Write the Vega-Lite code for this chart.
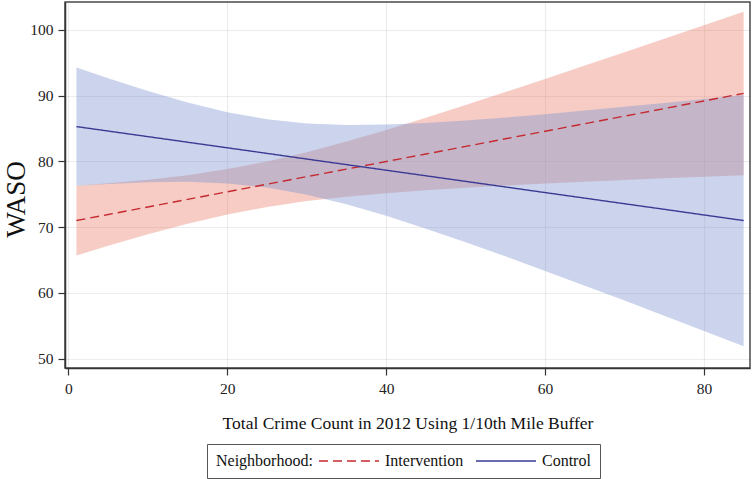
{
  "$schema": "https://vega.github.io/schema/vega-lite/v6.json",
  "width": 685,
  "height": 366,
  "autosize": {"type": "none"},
  "padding": {"left": 65, "top": 2, "right": 2, "bottom": 111},
  "background": "white",
  "config": {
    "font": "Liberation Serif",
    "view": {"stroke": "#4a4a4a", "strokeWidth": 1.5},
    "axis": {
      "labelFont": "Liberation Serif",
      "titleFont": "Liberation Serif",
      "labelColor": "#222",
      "titleColor": "#111",
      "gridColor": "#000000",
      "gridOpacity": 0.075,
      "gridWidth": 1.2,
      "domainColor": "#333",
      "domainWidth": 1.5,
      "tickColor": "#333",
      "tickSize": 7,
      "tickWidth": 1.2,
      "labelFontSize": 15.5,
      "zindex": 1
    }
  },
  "data": {
    "values": [
      {"x": 1, "group": "Intervention", "fit": 71.0, "lo": 65.69, "hi": 76.31},
      {"x": 5, "group": "Intervention", "fit": 71.92, "lo": 67.17, "hi": 76.67},
      {"x": 10, "group": "Intervention", "fit": 73.07, "lo": 68.92, "hi": 77.22},
      {"x": 15, "group": "Intervention", "fit": 74.22, "lo": 70.53, "hi": 77.91},
      {"x": 20, "group": "Intervention", "fit": 75.38, "lo": 71.93, "hi": 78.83},
      {"x": 25, "group": "Intervention", "fit": 76.53, "lo": 73.07, "hi": 79.99},
      {"x": 30, "group": "Intervention", "fit": 77.68, "lo": 73.96, "hi": 81.40},
      {"x": 35, "group": "Intervention", "fit": 78.83, "lo": 74.64, "hi": 83.02},
      {"x": 40, "group": "Intervention", "fit": 79.98, "lo": 75.17, "hi": 84.79},
      {"x": 45, "group": "Intervention", "fit": 81.13, "lo": 75.61, "hi": 86.65},
      {"x": 50, "group": "Intervention", "fit": 82.28, "lo": 75.98, "hi": 88.58},
      {"x": 55, "group": "Intervention", "fit": 83.44, "lo": 76.33, "hi": 90.55},
      {"x": 60, "group": "Intervention", "fit": 84.59, "lo": 76.63, "hi": 92.55},
      {"x": 65, "group": "Intervention", "fit": 85.74, "lo": 76.90, "hi": 94.58},
      {"x": 70, "group": "Intervention", "fit": 86.89, "lo": 77.17, "hi": 96.61},
      {"x": 75, "group": "Intervention", "fit": 88.04, "lo": 77.42, "hi": 98.66},
      {"x": 80, "group": "Intervention", "fit": 89.20, "lo": 77.67, "hi": 100.73},
      {"x": 85, "group": "Intervention", "fit": 90.35, "lo": 77.91, "hi": 102.79},
      {"x": 1, "group": "Control", "fit": 85.3, "lo": 76.29, "hi": 94.31},
      {"x": 5, "group": "Control", "fit": 84.62, "lo": 76.58, "hi": 92.66},
      {"x": 10, "group": "Control", "fit": 83.77, "lo": 76.83, "hi": 90.71},
      {"x": 15, "group": "Control", "fit": 82.92, "lo": 76.89, "hi": 88.95},
      {"x": 20, "group": "Control", "fit": 82.07, "lo": 76.65, "hi": 87.49},
      {"x": 25, "group": "Control", "fit": 81.22, "lo": 76.02, "hi": 86.42},
      {"x": 30, "group": "Control", "fit": 80.36, "lo": 74.94, "hi": 85.78},
      {"x": 35, "group": "Control", "fit": 79.51, "lo": 73.48, "hi": 85.54},
      {"x": 40, "group": "Control", "fit": 78.66, "lo": 71.72, "hi": 85.60},
      {"x": 45, "group": "Control", "fit": 77.81, "lo": 69.77, "hi": 85.85},
      {"x": 50, "group": "Control", "fit": 76.96, "lo": 67.70, "hi": 86.22},
      {"x": 55, "group": "Control", "fit": 76.11, "lo": 65.55, "hi": 86.67},
      {"x": 60, "group": "Control", "fit": 75.26, "lo": 63.34, "hi": 87.18},
      {"x": 65, "group": "Control", "fit": 74.41, "lo": 61.09, "hi": 87.73},
      {"x": 70, "group": "Control", "fit": 73.56, "lo": 58.82, "hi": 88.30},
      {"x": 75, "group": "Control", "fit": 72.71, "lo": 56.52, "hi": 88.90},
      {"x": 80, "group": "Control", "fit": 71.85, "lo": 54.20, "hi": 89.50},
      {"x": 85, "group": "Control", "fit": 71.0, "lo": 51.88, "hi": 90.12}
    ]
  },
  "encoding": {
    "x": {
      "field": "x",
      "type": "quantitative",
      "scale": {"domain": [-0.44, 85.8], "nice": false, "zero": false},
      "axis": {
        "values": [0, 20, 40, 60, 80],
        "title": "Total Crime Count in 2012 Using 1/10th Mile Buffer",
        "titleFontSize": 17.5,
        "titleFontWeight": "normal",
        "titlePadding": 18,
        "labelPadding": 6
      }
    }
  },
  "layer": [
    {
      "mark": {"type": "area", "opacity": 0.4},
      "encoding": {
        "y": {
          "field": "lo",
          "type": "quantitative",
          "scale": {"domain": [48.56, 104.26], "nice": false, "zero": false},
          "axis": {
            "values": [50, 60, 70, 80, 90, 100],
            "title": "WASO",
            "titleFontSize": 27,
            "titleFontWeight": "normal",
            "titleX": -41,
            "titleY": 197,
            "titleAlign": "center",
            "titleBaseline": "alphabetic",
            "titleAngle": -90,
            "labelPadding": 5
          }
        },
        "y2": {"field": "hi"},
        "fill": {
          "field": "group",
          "type": "nominal",
          "scale": {"domain": ["Control", "Intervention"], "range": ["#7d94cf", "#e9806f"]},
          "legend": null
        },
        "order": {"field": "group", "sort": "ascending"}
      }
    },
    {
      "mark": {"type": "line", "strokeWidth": 1.4},
      "encoding": {
        "y": {"field": "fit", "type": "quantitative"},
        "stroke": {
          "field": "group",
          "type": "nominal",
          "scale": {"domain": ["Intervention", "Control"], "range": ["#c42a30", "#3a3a94"]},
          "legend": {
            "title": "Neighborhood:",
            "orient": "none",
            "legendX": 142,
            "legendY": 442,
            "direction": "horizontal",
            "titleOrient": "left",
            "titleAnchor": "middle",
            "titleBaseline": "middle",
            "titleFontSize": 16,
            "titleFontWeight": "normal",
            "titleFont": "Liberation Serif",
            "titleColor": "#111",
            "titlePadding": 5,
            "labelFont": "Liberation Serif",
            "labelFontSize": 16,
            "labelColor": "#111",
            "labelOffset": 5,
            "columnPadding": 11,
            "symbolType": "stroke",
            "symbolSize": 3600,
            "symbolStrokeWidth": 1.3,
            "clipHeight": 16,
            "strokeColor": "#555",
            "padding": 9,
            "fillColor": "white"
          }
        },
        "strokeDash": {
          "field": "group",
          "type": "nominal",
          "scale": {"domain": ["Intervention", "Control"], "range": [[9, 5], [1, 0]]},
          "legend": {
            "title": "Neighborhood:"
          }
        }
      }
    }
  ]
}
